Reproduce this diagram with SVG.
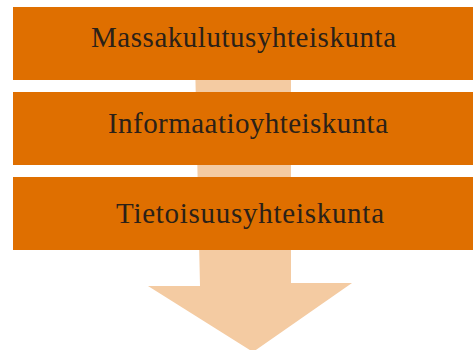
<svg xmlns="http://www.w3.org/2000/svg" width="473" height="350" viewBox="0 0 473 350">
<style>
.box{fill:#DF6F00}
.lbl{font-family:"Liberation Serif","DejaVu Serif",serif;font-size:29px;fill:#2b2118}
</style>
<rect width="473" height="350" fill="#fff"/>
<g id="connectors">
<polygon points="195,60 291,60 291,283 352,283 253,352 148,286 200,286" fill="#F4CBA2"/>
</g>
<g id="n1"><rect class="box" x="13" y="7" width="460" height="73"/><text class="lbl" x="91" y="47" textLength="305" lengthAdjust="spacing">Massakulutusyhteiskunta</text></g>
<g id="n2"><rect class="box" x="13" y="92" width="460" height="73"/><text class="lbl" x="108" y="133" textLength="280" lengthAdjust="spacing">Informaatioyhteiskunta</text></g>
<g id="n3"><rect class="box" x="13" y="177" width="460" height="73"/><text class="lbl" x="116" y="223" textLength="268" lengthAdjust="spacing">Tietoisuusyhteiskunta</text></g>
</svg>
